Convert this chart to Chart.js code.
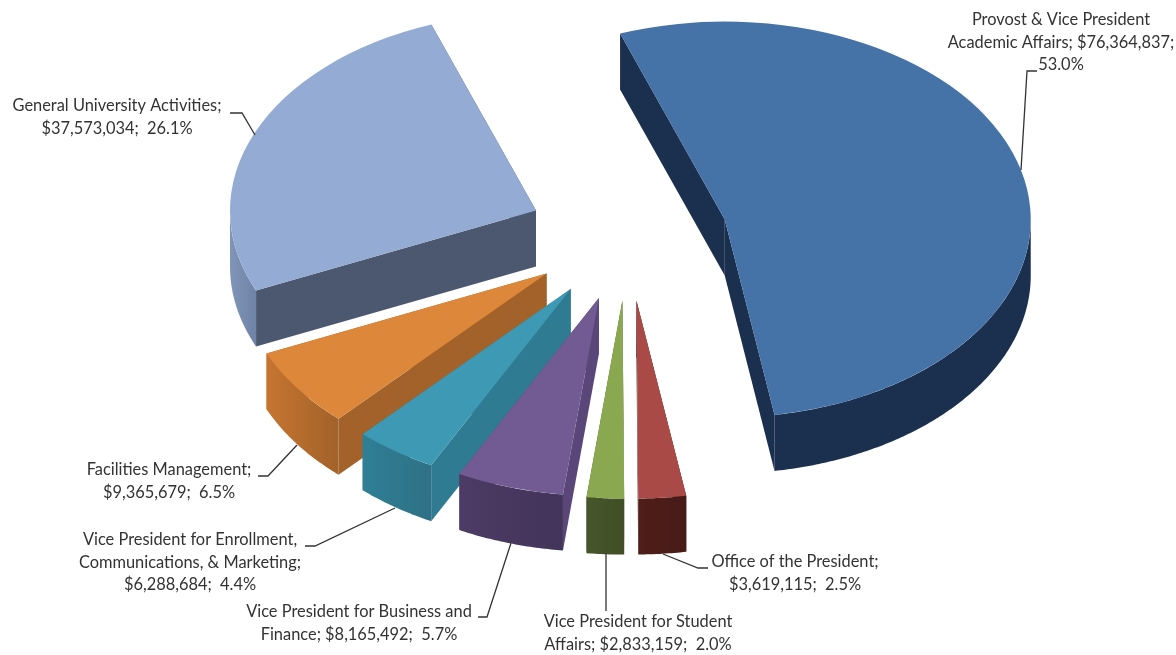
<!DOCTYPE html>
<html>
<head>
<meta charset="utf-8">
<style>html,body{margin:0;padding:0;background:#fff}canvas{display:block}</style>
<script src="https://cdn.jsdelivr.net/npm/chart.js@4/dist/chart.umd.min.js"></script>
</head>
<body>
<canvas id="budget" width="1176" height="655"></canvas>
<script>
// Budget by division, clockwise from the Provost slice
const categories = [
  'Provost & Vice President Academic Affairs',
  'Office of the President',
  'Vice President for Student Affairs',
  'Vice President for Business and Finance',
  'Vice President for Enrollment, Communications, & Marketing',
  'Facilities Management',
  'General University Activities'
];
const amounts = [76364837, 3619115, 2833159, 8165492, 6288684, 9365679, 37573034];
const labelLines = [
  ['Provost & Vice President', 'Academic Affairs; $76,364,837;', '53.0%'],
  ['Office of the President;', '$3,619,115;  2.5%'],
  ['Vice President for Student', 'Affairs; $2,833,159;  2.0%'],
  ['Vice President for Business and', 'Finance; $8,165,492;  5.7%'],
  ['Vice President for Enrollment,', 'Communications, & Marketing;', '$6,288,684;  4.4%'],
  ['Facilities Management;', '$9,365,679;  6.5%'],
  ['General University Activities;', '$37,573,034;  26.1%']
];

// Face colours per slice
const topColors  = ['#4572a7', '#a94a47', '#8aa84f', '#725a93', '#3e9ab4', '#dd873b', '#94abd3'];
const cutColors  = ['#1b2f4f', '#4b1c1a', '#45542a', '#5a4678', '#2f7b92', '#a2622a', '#4c586f'];
const rimColors  = [
  ['#1b2f4f', '#1b2f4f'], ['#4f1d1a', '#471b18'], ['#47562b', '#3f4e25'], ['#4c3b64', '#43345a'],
  ['#2f7f95', '#2f7186'], ['#c67530', '#a2622a'], ['#8195b8', '#6f83a6']
];

// Label anchors (centre x, first line y) and leader polylines
const labelAnchors = [[1061, 20], [795, 562], [638, 622], [359, 612], [190, 540], [169, 470], [117, 106]];
const leaders = [
  [[1021, 170], [1027, 71], [1037, 71]],
  [[663, 554], [698, 568], [708, 568]],
  [[606, 553], [606, 611]],
  [[511, 543], [487, 617], [478, 617]],
  [[395, 508], [315, 546], [305, 546]],
  [[297, 445], [268, 476], [258, 476]],
  [[255, 135], [242, 113], [230, 113]]
];

const TILT = 0.647;       // vertical squash of the pie plane
const DEPTH = 56;         // extrusion height in px
const EXPLODE = 100;      // distance each slice is pulled from the centre
const LINE_HEIGHT = 22.5;

// Extruded, exploded pie: walls are built around each arc element's geometry
const pie3d = {
  id: 'pie3d',
  beforeDatasetsDraw(chart) {
    const ctx = chart.ctx;
    const arcs = chart.getDatasetMeta(0).data;

    const geom = arcs.map(arc => {
      const mid = (arc.startAngle + arc.endAngle) / 2;
      return { ex: Math.cos(mid) * EXPLODE, ey: Math.sin(mid) * EXPLODE };
    });
    const project = (arc, g, angle, r, z) => [
      arc.x + g.ex + r * Math.cos(angle),
      arc.y + (g.ey + r * Math.sin(angle)) * TILT + z
    ];
    const fillPoly = (pts, style) => {
      ctx.beginPath();
      pts.forEach((p, i) => i ? ctx.lineTo(p[0], p[1]) : ctx.moveTo(p[0], p[1]));
      ctx.closePath();
      ctx.fillStyle = style;
      ctx.fill();
    };

    // Paint from the back of the plane to the front
    const order = arcs.map((_, i) => i).sort((a, b) => geom[a].ey - geom[b].ey);

    order.forEach(i => {
      const arc = arcs[i], g = geom[i], R = arc.outerRadius;

      // Cut faces
      [arc.startAngle, arc.endAngle].forEach(a => {
        fillPoly([
          project(arc, g, a, 0, 0), project(arc, g, a, R, 0),
          project(arc, g, a, R, DEPTH), project(arc, g, a, 0, DEPTH)
        ], cutColors[i]);
      });

      // Outer wall: only the part of the rim that faces the viewer
      const twoPi = Math.PI * 2;
      for (const shift of [-twoPi, 0, twoPi]) {
        const s = Math.max(arc.startAngle + shift, 0);
        const e = Math.min(arc.endAngle + shift, Math.PI);
        if (e <= s) continue;
        const upper = [], lower = [];
        const steps = Math.ceil((e - s) / 0.01);
        for (let k = 0; k <= steps; k++) {
          const a = s + (e - s) * k / steps;
          upper.push(project(arc, g, a, R, 0));
          lower.unshift(project(arc, g, a, R, DEPTH));
        }
        const xs = upper.map(p => p[0]);
        const grad = ctx.createLinearGradient(Math.min(...xs), 0, Math.max(...xs), 0);
        grad.addColorStop(0, rimColors[i][0]);
        grad.addColorStop(1, rimColors[i][1]);
        fillPoly(upper.concat(lower), grad);
      }

      // Top face: the library's own arc, in the tilted plane
      ctx.save();
      ctx.translate(arc.x, arc.y);
      ctx.scale(1, TILT);
      ctx.translate(-arc.x + g.ex, -arc.y + g.ey);
      arc.draw(ctx);
      ctx.restore();
    });
    return false;
  },
  afterDraw(chart) {
    const ctx = chart.ctx;
    ctx.save();
    ctx.strokeStyle = '#333333';
    ctx.lineWidth = 1.3;
    leaders.forEach(line => {
      ctx.beginPath();
      line.forEach((p, i) => i ? ctx.lineTo(p[0], p[1]) : ctx.moveTo(p[0], p[1]));
      ctx.stroke();
    });
    ctx.font = '16.4px Lato';
    ctx.fillStyle = '#333333';
    ctx.textAlign = 'center';
    ctx.textBaseline = 'middle';
    labelLines.forEach((lines, i) => {
      lines.forEach((text, j) => {
        ctx.fillText(text, labelAnchors[i][0], labelAnchors[i][1] + j * LINE_HEIGHT);
      });
    });
    ctx.restore();
  }
};

new Chart(document.getElementById('budget'), {
  type: 'pie',
  data: {
    labels: categories,
    datasets: [{
      data: amounts,
      backgroundColor: topColors,
      borderWidth: 0,
      hoverOffset: 0
    }]
  },
  options: {
    responsive: false,
    animation: false,
    rotation: -20,
    radius: 306,
    layout: { padding: { left: 80, right: 0, top: 0, bottom: 183 } },
    plugins: { legend: { display: false }, tooltip: { enabled: false } }
  },
  plugins: [pie3d]
});
</script>
</body>
</html>
